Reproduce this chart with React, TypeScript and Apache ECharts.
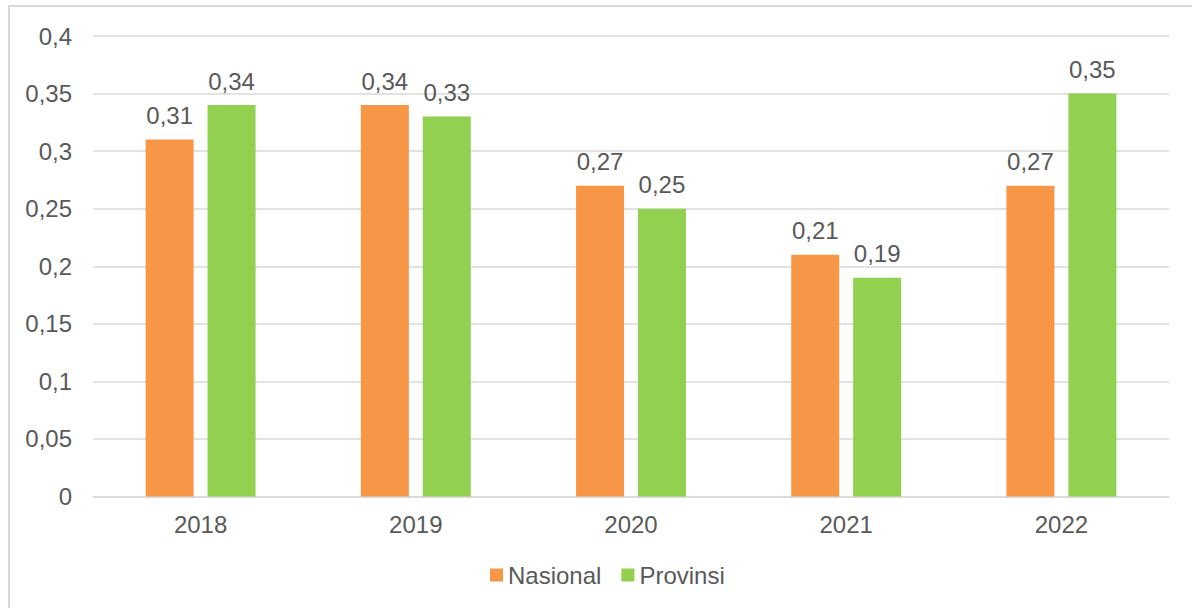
import React, { useEffect, useRef } from "react";
import * as echarts from "echarts";

const categories = ["2018", "2019", "2020", "2021", "2022"];
const nasional = [0.31, 0.34, 0.27, 0.21, 0.27];
const provinsi = [0.34, 0.33, 0.25, 0.19, 0.35];
const seriesNames = ["Nasional", "Provinsi"];

const fmt = (v: number) => String(parseFloat(Number(v).toFixed(2))).replace(".", ",");

export default function App() {
  const ref = useRef<HTMLDivElement>(null);
  useEffect(() => {
    if (!ref.current) return;
    const chart = echarts.init(ref.current, null, { renderer: "svg" });
    const textColor = "#595959";
    const font = "'Liberation Sans', Arial, sans-serif";
    const fs = 24;
    chart.setOption({
      animation: false,
      backgroundColor: "#ffffff",
      textStyle: { fontFamily: font },
      graphic: [
        {
          type: "rect",
          shape: { x: 9, y: 6, width: 1300, height: 700 },
          style: { fill: "none", stroke: "#D9D9D9", lineWidth: 2 },
          silent: true,
        },
      ],
      grid: { left: 93, right: 23, top: 36, bottom: 111.5, containLabel: false },
      legend: {
        left: 490,
        top: 563,
        padding: 0,
        itemWidth: 13,
        itemHeight: 13,
        itemGap: 20,
        icon: "rect",
        textStyle: { color: textColor, fontSize: fs, fontFamily: font },
        data: seriesNames,
      },
      xAxis: {
        type: "category",
        data: categories,
        axisLine: { show: true, lineStyle: { color: "#D9D9D9", width: 1.5 } },
        axisTick: { show: false },
        axisLabel: { color: textColor, fontSize: fs, margin: 16, fontFamily: font },
      },
      yAxis: {
        type: "value",
        min: 0,
        max: 0.4,
        interval: 0.05,
        axisLine: { show: false },
        axisTick: { show: false },
        splitLine: { lineStyle: { color: "#D9D9D9", width: 1.5 } },
        axisLabel: { color: textColor, fontSize: fs, margin: 21, fontFamily: font, formatter: (v: number) => fmt(v) },
      },
      series: [
        {
          name: seriesNames[0],
          type: "bar",
          data: nasional,
          barWidth: 48,
          barGap: "29%",
          itemStyle: { color: "#F79646" },
          label: { show: true, position: "top", distance: 12, color: textColor, fontSize: fs, fontFamily: font, formatter: (p: any) => fmt(p.value) },
        },
        {
          name: seriesNames[1],
          type: "bar",
          data: provinsi,
          barWidth: 48,
          itemStyle: { color: "#92D050" },
          label: { show: true, position: "top", distance: 12, color: textColor, fontSize: fs, fontFamily: font, formatter: (p: any) => fmt(p.value) },
        },
      ],
    });
    return () => chart.dispose();
  }, []);
  return <div ref={ref} style={{ position: "absolute", left: 0, top: 0, width: 1192, height: 608 }} />;
}
